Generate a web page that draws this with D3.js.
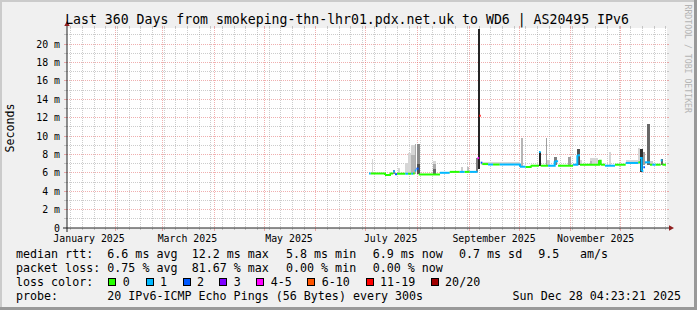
<!DOCTYPE html>
<html><head><meta charset="utf-8">
<script src="https://cdn.jsdelivr.net/npm/d3@7"></script>
<style>
html,body{margin:0;padding:0;background:#F0F0F0;}
svg{display:block;}
text{font-family:"DejaVu Sans Mono",monospace;}
</style></head><body>
<svg id="chart" width="697" height="310"></svg>
<script>
// ---------- DATA ----------
const title = "Last 360 Days from smokeping-thn-lhr01.pdx.net.uk to WD6 | AS20495 IPv6";
const endTimeStr = "2025-12-28T04:23:21Z";
const spanDays = 360;
const yMaxMs = 21.74;
const yTickValues = [0, 2, 4, 6, 8, 10, 12, 14, 16, 18, 20];
const yTickLabels = ["0", "2 m", "4 m", "6 m", "8 m", "10 m", "12 m", "14 m", "16 m", "18 m", "20 m"];
const monthLabelStarts = ["2025-01-01", "2025-03-01", "2025-05-01", "2025-07-01", "2025-09-01", "2025-11-01"];
const monthLabels = ["January 2025", "March 2025", "May 2025", "July 2025", "September 2025", "November 2025"];

// median rtt (ms) as steps: start time, value, loss class index
const medDates = ["2025-07-03T00","2025-07-04T00","2025-07-12T14","2025-07-15T14","2025-07-17T12","2025-07-18T14","2025-07-19T20","2025-07-24T19","2025-07-26T10","2025-07-28T10","2025-07-29T10","2025-07-30T10","2025-07-31T10","2025-08-01T19","2025-08-14T14","2025-08-20T10","2025-08-26T10","2025-08-29T10","2025-09-01T10","2025-09-06T02","2025-09-07T02","2025-09-08T00","2025-09-09T00","2025-09-12T10","2025-09-15T10","2025-09-19T10","2025-10-01T14","2025-10-05T00","2025-10-08T00","2025-10-13T00","2025-10-14T00","2025-10-18T10","2025-10-22T10","2025-10-24T10","2025-11-02T10","2025-11-05T00","2025-11-06T14","2025-11-18T00","2025-11-19T00","2025-11-21T14","2025-11-27T14","2025-12-04T00","2025-12-11T14","2025-12-12T14","2025-12-13T14","2025-12-14T14","2025-12-15T14","2025-12-18T14","2025-12-20T00","2025-12-22T00","2025-12-25T00","2025-12-26T00"];
const medMs    = [5.92,5.92,5.76,5.92,6.15,5.85,5.9,5.9,5.9,5.9,5.92,6.25,6.45,5.82,6.0,6.1,6.1,6.1,6.1,7.6,12.2,7.1,6.95,6.9,6.9,6.9,6.66,6.62,6.77,8.26,6.77,6.77,7.25,6.77,6.88,7.9,6.88,7.3,6.88,6.77,6.88,7.07,7.14,7.6,6.2,6.6,7.14,6.88,6.88,6.88,7.35,6.88];
const medLoss  = [1,0,0,0,1,2,0,1,0,1,0,1,2,0,1,0,1,0,1,4,6,2,0,1,0,1,1,0,0,1,0,1,1,0,1,1,0,0,0,1,0,1,0,1,1,2,1,0,1,0,1,0];

// smoke: start time, duration (days), low ms, high ms, ping density (0..20)
const smokeDates = ["2025-07-04T12","2025-07-17T12","2025-07-20T10","2025-07-24T19","2025-07-26T10","2025-07-28T10","2025-07-28T10","2025-07-30T10","2025-07-31T12","2025-07-31T12","2025-08-10T10","2025-08-10T10","2025-08-10T10","2025-08-27T10","2025-08-30T18","2025-09-05T10","2025-09-06T14","2025-09-08T00","2025-10-02T10","2025-10-12T22","2025-10-17T00","2025-10-18T00","2025-10-22T00","2025-10-30T10","2025-11-04T12","2025-11-04T20","2025-11-12T14","2025-11-12T14","2025-11-17T10","2025-11-24T00","2025-12-04T00","2025-12-11T14","2025-12-12T14","2025-12-14T05","2025-12-17T00","2025-12-18T14","2025-12-25T00"];
const smokeDays  = [1.0,1.0,1.0,1.6,2.0,2.0,2.0,1.0,2.0,2.0,1.6,1.6,1.6,1.0,1.0,1.0,1.1,23.5,1.2,1.2,0.7,1.4,2.0,1.6,3.0,1.7,1.2,4.8,1.6,1.0,7.6,1.0,2.0,1.4,1.6,2.0,1.2];
const smokeLow   = [5.92,5.92,5.9,5.9,5.9,5.9,5.9,5.9,5.9,5.9,5.85,5.85,5.85,6.1,6.1,6.05,6.4,6.9,6.7,6.7,6.8,6.8,6.8,6.8,6.9,6.9,6.9,6.9,6.9,6.8,7.07,7.0,6.1,6.8,6.9,6.9,6.9];
const smokeHigh  = [7.5,6.35,6.5,7.1,8.2,9.05,7.9,9.1,9.15,7.0,7.3,7.0,6.4,6.6,6.6,7.6,21.6,7.15,9.8,8.3,9.8,7.4,7.7,7.7,7.4,8.6,7.25,7.6,7.4,8.3,7.35,8.66,8.6,8.3,11.3,7.3,7.45];
const smokeDensity = [2,9,2,2,2,2,5,6,9,14,2,6,12,3,4,10,18,2,5,18,7,3,10,7,2,14,5,2,10,2,2,2,17,7,12,3,12];

const lossLabels = ["0","1","2","3","4-5","6-10","11-19","20/20"];
const lossColors = ["#26ff00","#00b8ff","#0059ff","#7e00ff","#ff00ff","#ff5500","#ff0000","#a00000"];

const rttLegend  = ["6.6 ms avg","12.2 ms max","5.8 ms min","6.9 ms now","0.7 ms sd","9.5","am/s"];
const lossLegend = ["0.75 % avg","81.67 % max","0.00 % min","0.00 % now"];
const probeText = "20 IPv6-ICMP Echo Pings (56 Bytes) every 300s";
const stampText = "Sun Dec 28 04:23:21 2025";

// ---------- DRAW ----------
const W = 697, H = 310;
const svg = d3.select("#chart");
const parseT = s => new Date(s.length <= 13 ? s + ":00:00Z" : s);
const endTime = new Date(endTimeStr);
const startTime = new Date(endTime.getTime() - spanDays * 864e5);
const x = d3.scaleUtc().domain([startTime, endTime]).range([66, 666]);
const y = d3.scaleLinear().domain([0, yMaxMs]).range([228, 28]);
const X0 = 67, X1 = 667, YB = 228, YT = 28;
const snap = v => Math.floor(v) + 0.5;

// background & border
svg.append("rect").attr("width", W).attr("height", H).attr("fill", "#F0F0F0");
svg.append("rect").attr("x",0).attr("y",0).attr("width",W).attr("height",2).attr("fill","#CBCBCB");
svg.append("rect").attr("x",0).attr("y",0).attr("width",2).attr("height",H).attr("fill","#CBCBCB");
svg.append("rect").attr("x",W-3).attr("y",0).attr("width",3).attr("height",H).attr("fill","#999999");
svg.append("rect").attr("x",0).attr("y",H-3).attr("width",W).attr("height",3).attr("fill","#999999");

// canvas
svg.append("rect").attr("x", X0).attr("y", YT).attr("width", X1 - X0).attr("height", YB - YT).attr("fill", "#ffffff");

const gridCol = "rgba(143,143,143,0.46)";
const mgridCol = "rgba(222,80,80,0.46)";
const g = svg.append("g");

// horizontal grid
for (let v = 1; v <= Math.floor(yMaxMs); v++) {
  const yy = snap(y(v));
  const col = (v % 2 === 0) ? mgridCol : gridCol;
  g.append("line").attr("x1", X0).attr("x2", X1).attr("y1", yy).attr("y2", yy)
    .attr("stroke", col).attr("stroke-dasharray", "1,1");
  g.append("line").attr("x1", X0 - 3).attr("x2", X0).attr("y1", yy).attr("y2", yy).attr("stroke", col);
  g.append("line").attr("x1", X1).attr("x2", X1 + 2).attr("y1", yy).attr("y2", yy).attr("stroke", col);
}
// vertical grid: weekly minor (Sundays), monthly major
const sundays = d3.utcSunday.range(startTime, endTime);
const months = d3.utcMonth.range(startTime, endTime);
const monthSet = new Set(months.map(d => +d));
sundays.filter(d => !monthSet.has(+d)).forEach(d => {
  const xx = snap(x(d));
  g.append("line").attr("x1", xx).attr("x2", xx).attr("y1", YT).attr("y2", YB)
    .attr("stroke", gridCol).attr("stroke-dasharray", "1,1");
  g.append("line").attr("x1", xx).attr("x2", xx).attr("y1", YB).attr("y2", YB + 2).attr("stroke", gridCol);
  g.append("line").attr("x1", xx).attr("x2", xx).attr("y1", YT - 2).attr("y2", YT).attr("stroke", gridCol);
});
months.forEach(d => {
  const xx = snap(x(d));
  g.append("line").attr("x1", xx).attr("x2", xx).attr("y1", YT).attr("y2", YB)
    .attr("stroke", mgridCol).attr("stroke-dasharray", "1,1");
  g.append("line").attr("x1", xx).attr("x2", xx).attr("y1", YB).attr("y2", YB + 3).attr("stroke", mgridCol);
  g.append("line").attr("x1", xx).attr("x2", xx).attr("y1", YT - 2).attr("y2", YT).attr("stroke", mgridCol);
});

// smoke
const gray = d3.scaleLinear().domain([1, 20]).range([225, 15]);
const smoke = smokeDates.map((d, i) => ({t: parseT(d), days: smokeDays[i], lo: smokeLow[i], hi: smokeHigh[i], dens: smokeDensity[i]}))
  .sort((a, b) => a.dens - b.dens);
svg.append("g").selectAll("rect").data(smoke).join("rect")
  .attr("x", d => x(d.t))
  .attr("width", d => Math.max(1, x(new Date(d.t.getTime() + d.days * 864e5)) - x(d.t)))
  .attr("y", d => y(d.hi))
  .attr("height", d => y(d.lo) - y(d.hi))
  .attr("fill", d => { const c = Math.round(gray(d.dens)); return `rgb(${c},${c},${c})`; })
  .attr("shape-rendering", "crispEdges");

// median line
const med = medDates.map((d, i) => ({t: parseT(d), v: medMs[i], loss: medLoss[i]}));
const mg = svg.append("g");
med.forEach((d, i) => {
  const xa = x(d.t);
  const xb = i < med.length - 1 ? x(med[i + 1].t) : x(endTime);
  let p = `M${xa},${y(d.v)}H${xb}`;
  if (i < med.length - 1 && med[i + 1].loss === d.loss) p += `V${y(med[i + 1].v)}`;
  mg.append("path").attr("d", p).attr("fill", "none")
    .attr("stroke", lossColors[d.loss]).attr("stroke-width", 2);
});

// axes
const axisCol = "#202020", arrowCol = "#8f1f1f";
svg.append("line").attr("x1", X0).attr("x2", X0).attr("y1", YB + 4).attr("y2", YT - 3).attr("stroke", axisCol);
svg.append("line").attr("x1", X0 - 4).attr("x2", X1 + 3).attr("y1", YB).attr("y2", YB).attr("stroke", axisCol);
svg.append("path").attr("d", `M${X0},${YT - 7}L${X0 + 2.7},${YT - 2}L${X0 - 2.7},${YT - 2}Z`).attr("fill", arrowCol);
svg.append("path").attr("d", `M${X1 + 7},${YB}L${X1 + 2},${YB - 2.7}L${X1 + 2},${YB + 2.7}Z`).attr("fill", arrowCol);

// y labels
svg.append("g").selectAll("text").data(yTickValues).join("text")
  .attr("x", 60).attr("y", d => y(d) + 3.6).attr("text-anchor", "end")
  .attr("font-size", "9.9px").attr("fill", "#000").text((d, i) => yTickLabels[i]);
// x labels
svg.append("g").selectAll("text").data(monthLabelStarts).join("text")
  .attr("x", d => x(new Date(parseT(d + "T00").getTime() + 15 * 864e5)))
  .attr("y", 241.5).attr("text-anchor", "middle")
  .attr("font-size", "9.9px").attr("fill", "#000").text((d, i) => monthLabels[i]);

// title
svg.append("text").attr("x", 347).attr("y", 24).attr("text-anchor", "middle")
  .attr("font-size", "13.2px").attr("fill", "#000").text(title);
// vertical label
svg.append("text").attr("transform", "translate(14,128) rotate(-90)").attr("text-anchor", "middle")
  .attr("font-size", "11.6px").attr("fill", "#000").text("Seconds");
// watermark
svg.append("text").attr("transform", "translate(684.5,4.5) rotate(90)")
  .attr("font-size", "8.2px").attr("fill", "#b4b4b4").text("RRDTOOL / TOBI OETIKER");

// legend
const lf = "11.66px";
const leg = svg.append("g").attr("font-size", lf).attr("fill", "#000").style("white-space", "pre");
const put = (t, xx, yy, anchor) => leg.append("text").attr("x", xx).attr("y", yy).attr("text-anchor", anchor || "start").text(t);
put("median rtt:", 16, 258);
const rttX = [107.3, 191.7, 286, 372.7, 459, 538.3, 580];
rttLegend.forEach((t, i) => put(t, rttX[i], 258));
put("packet loss:", 16, 272);
const lossX = [107.3, 191.7, 286, 372.7];
lossLegend.forEach((t, i) => put(t, lossX[i], 272));
put("loss color:", 16, 286);
const swX = [108.3, 145.7, 182.7, 219.3, 256.3, 307.3, 365.7, 430.7];
lossLabels.forEach((t, i) => {
  leg.append("rect").attr("x", Math.round(swX[i]) + 0.5).attr("y", 278.5).attr("width", 7).attr("height", 7)
    .attr("fill", lossColors[i]).attr("stroke", "#000").attr("stroke-width", 1);
  put(t, swX[i] + 14.4, 286);
});
put("probe:", 16, 300);
put(probeText, 107.3, 300);
put(stampText, 681, 300, "end");
</script>
</body></html>
